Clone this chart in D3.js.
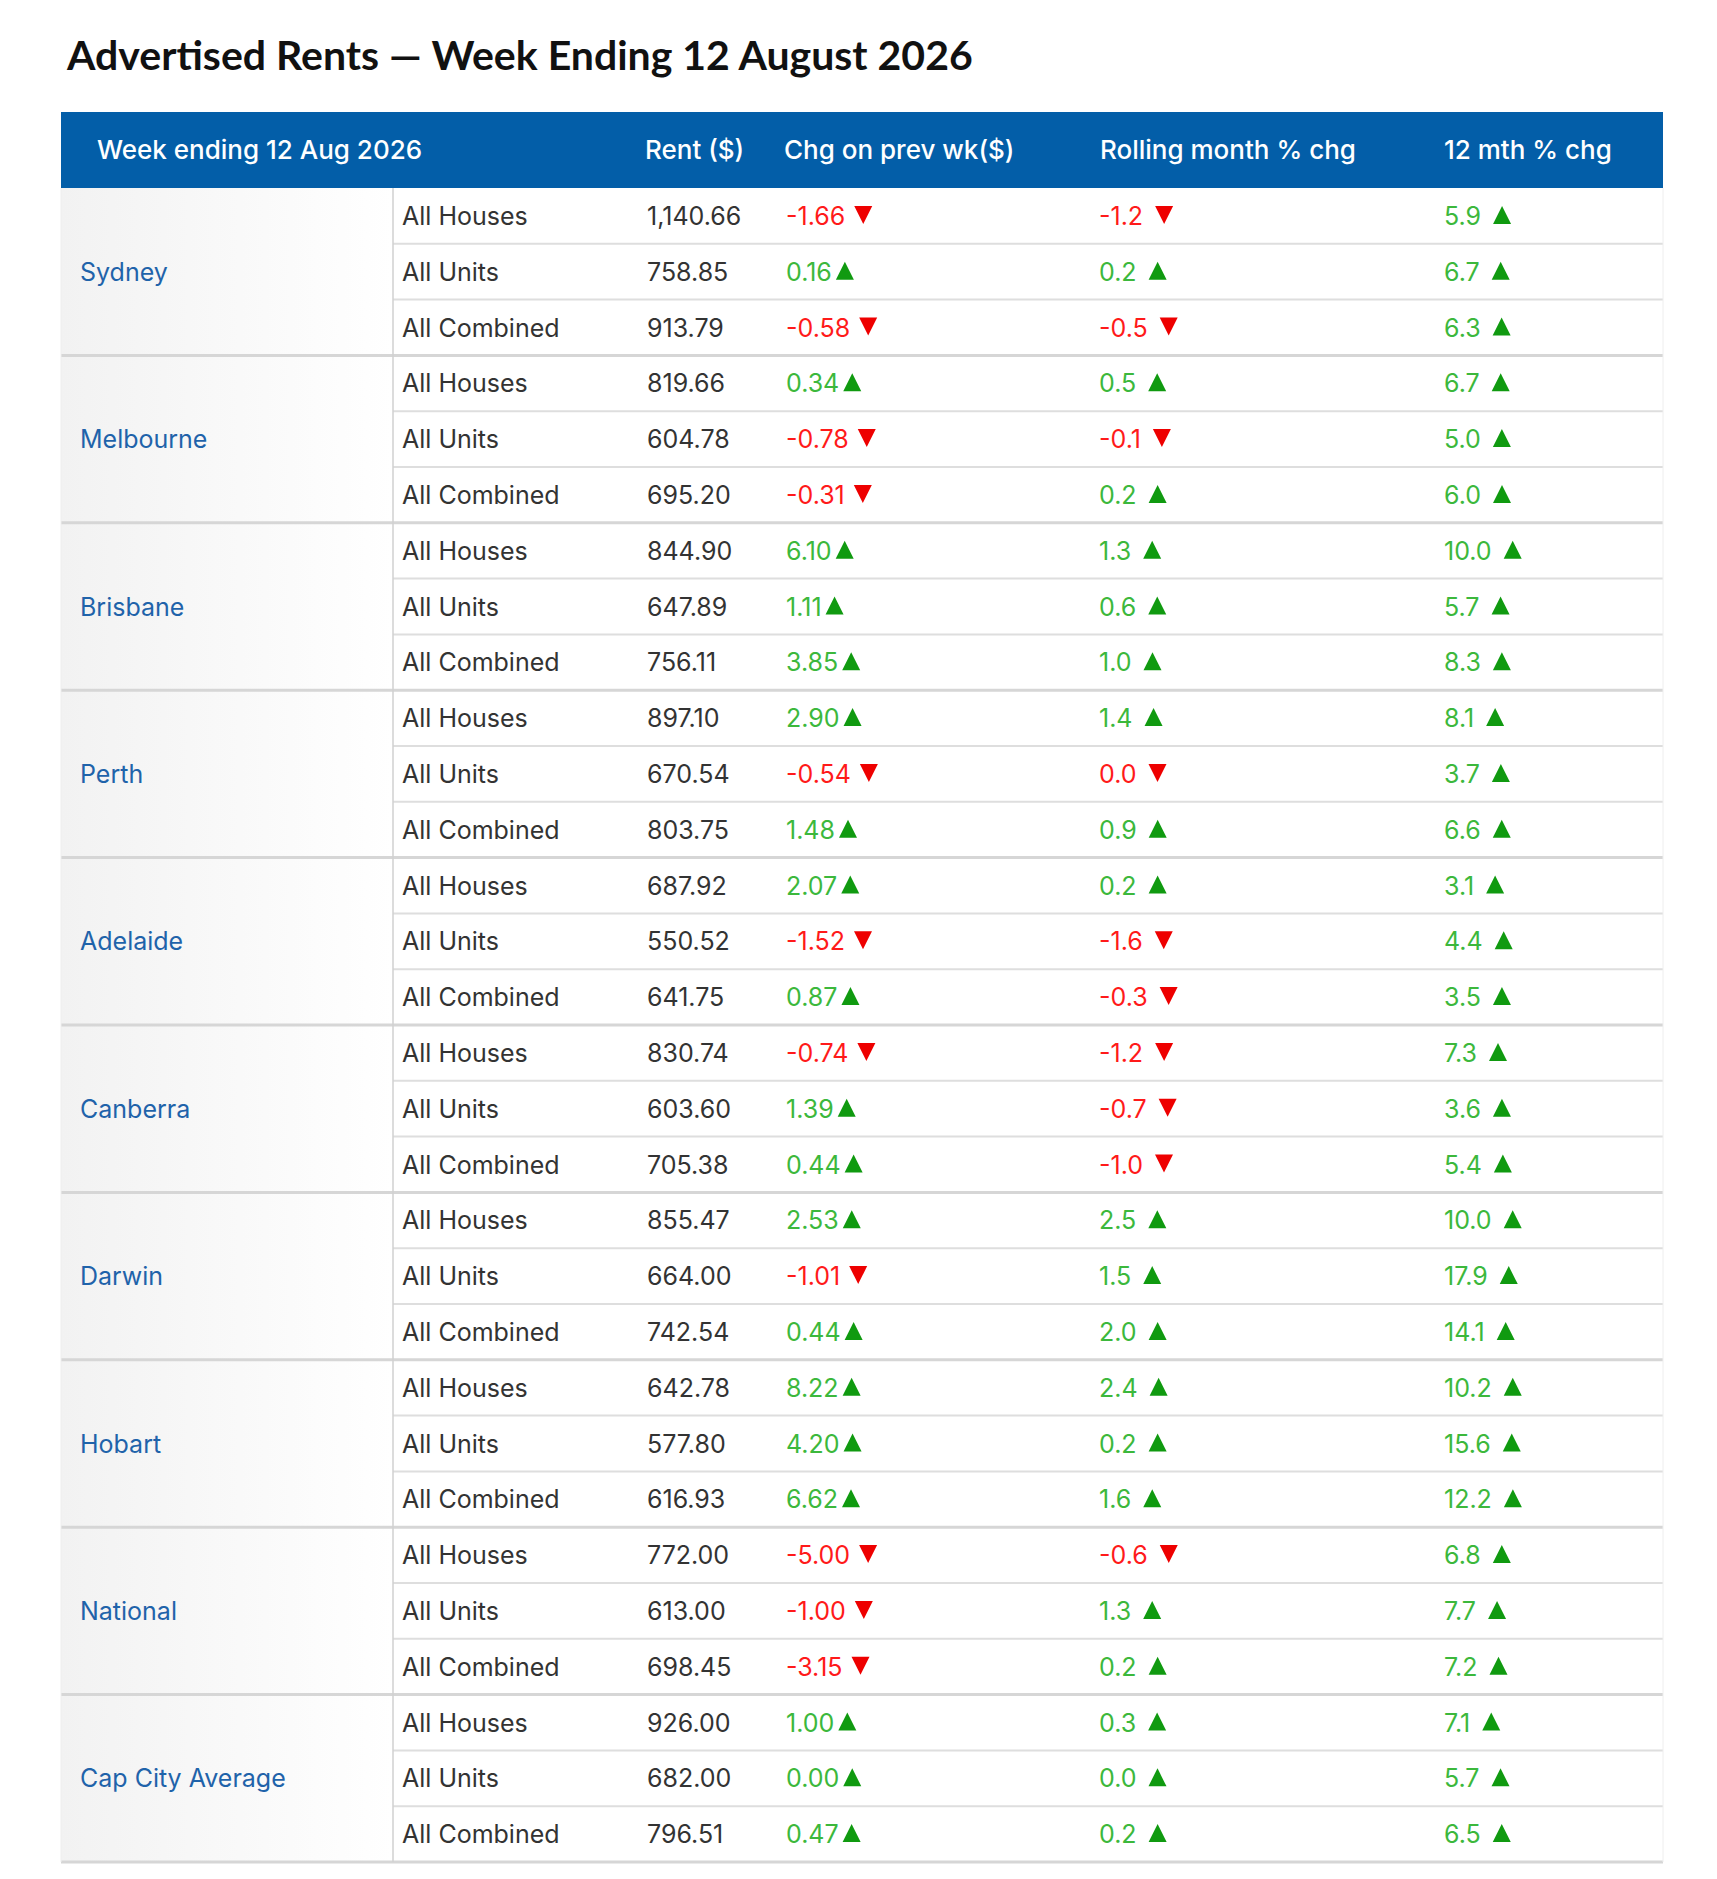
<!DOCTYPE html>
<html><head><meta charset="utf-8">
<script src="https://cdn.jsdelivr.net/npm/d3@7"></script>
<style>body{margin:0;background:#fff}</style>
</head><body>
<svg id="chart"></svg>
<script>
const cities = ["Sydney","Melbourne","Brisbane","Perth","Adelaide","Canberra","Darwin","Hobart","National","Cap City Average"];
const types = ["All Houses","All Units","All Combined"];
const headers = ["Week ending 12 Aug 2026","Rent ($)","Chg on prev wk($)","Rolling month % chg","12 mth % chg"];
const rent = ["1,140.66","758.85","913.79","819.66","604.78","695.20","844.90","647.89","756.11","897.10","670.54","803.75",
  "687.92","550.52","641.75","830.74","603.60","705.38","855.47","664.00","742.54","642.78","577.80","616.93",
  "772.00","613.00","698.45","926.00","682.00","796.51"];
const chgWeek = ["-1.66","0.16","-0.58","0.34","-0.78","-0.31","6.10","1.11","3.85","2.90","-0.54","1.48",
  "2.07","-1.52","0.87","-0.74","1.39","0.44","2.53","-1.01","0.44","8.22","4.20","6.62",
  "-5.00","-1.00","-3.15","1.00","0.00","0.47"];
const chgMonth = ["-1.2","0.2","-0.5","0.5","-0.1","0.2","1.3","0.6","1.0","1.4","0.0","0.9",
  "0.2","-1.6","-0.3","-1.2","-0.7","-1.0","2.5","1.5","2.0","2.4","0.2","1.6",
  "-0.6","1.3","0.2","0.3","0.0","0.2"];
// direction of the arrow in the month column (0.0 for Perth units shows down, Cap City shows up)
const monthDown = [1,0,1,0,1,0,0,0,0,0,1,0, 0,1,1,1,1,1,0,0,0,0,0,0, 1,0,0,0,0,0];
const chg12 = ["5.9","6.7","6.3","6.7","5.0","6.0","10.0","5.7","8.3","8.1","3.7","6.6",
  "3.1","4.4","3.5","7.3","3.6","5.4","10.0","17.9","14.1","10.2","15.6","12.2",
  "6.8","7.7","7.2","7.1","5.7","6.5"];

const W = 1717, H = 1879;
const left = 61, right = 1663, headTop = 112, headH = 76, rowH = 55.8;
const bodyTop = headTop + headH;
const font = "Inter, 'Noto Sans', sans-serif";
const red = "#ff1a1a", green = "#3cb83c", greenTri = "#109a10";

const svg = d3.select("#chart").attr("width", W).attr("height", H).style("font-family", font);
const defs = svg.append("defs");
const g = defs.append("linearGradient").attr("id", "cityGrad").attr("x1", "0%").attr("x2", "100%");
g.append("stop").attr("offset", "0%").attr("stop-color", "#f2f2f2");
g.append("stop").attr("offset", "100%").attr("stop-color", "#ffffff");

// title
svg.append("text").attr("x", 67).attr("y", 70)
  .style("font-family", "Lato, sans-serif").style("font-weight", 700).style("font-size", "41px")
  .attr("fill", "#111").text("Advertised Rents \u2014 Week Ending 12 August 2026");

// header
svg.append("rect").attr("x", left).attr("y", headTop).attr("width", right - left).attr("height", headH).attr("fill", "#035ea8");
const headX = [97, 645, 784, 1100, 1444];
svg.selectAll(".head").data(headers).enter().append("text")
  .attr("x", (d, i) => headX[i]).attr("y", headTop + headH / 2 + 9)
  .attr("fill", "#fff").style("font-size", "26px").style("font-weight", 500).text(d => d);

const y = i => bodyTop + i * rowH;

// city cells
cities.forEach((c, k) => {
  svg.append("rect").attr("x", left).attr("y", y(k * 3)).attr("width", 332).attr("height", rowH * 3).attr("fill", "url(#cityGrad)");
  svg.append("text").attr("x", 80).attr("y", y(k * 3) + rowH * 1.5 + 9)
    .attr("fill", "#1f63aa").style("font-size", "25px").text(c);
});

// row lines
d3.range(1, 31).forEach(i => {
  const group = i % 3 === 0;
  svg.append("line").attr("x1", group ? left : 393).attr("x2", right)
    .attr("y1", y(i)).attr("y2", y(i))
    .attr("stroke", group ? "#d6d6d6" : "#dedede").attr("stroke-width", group ? 3 : 2);
});
svg.append("line").attr("x1", 393).attr("x2", 393).attr("y1", bodyTop).attr("y2", y(30)).attr("stroke", "#d0d0d0").attr("stroke-width", 1.5);
svg.append("line").attr("x1", left).attr("x2", left).attr("y1", bodyTop).attr("y2", y(30)).attr("stroke", "#eee");
svg.append("line").attr("x1", right).attr("x2", right).attr("y1", bodyTop).attr("y2", y(30)).attr("stroke", "#eee");

function tri(x, cy, down, col) {
  const s = 9;
  const p = down ? `M${x},${cy - s} L${x + 2 * s},${cy - s} L${x + s},${cy + s} Z`
                 : `M${x + s},${cy - s} L${x + 2 * s},${cy + s} L${x},${cy + s} Z`;
  svg.append("path").attr("d", p).attr("fill", col);
}

function cell(x, i, txt, col, arrow, down, gap) {
  const cy = y(i) + rowH / 2;
  const t = svg.append("text").attr("x", x).attr("y", cy + 9).attr("fill", col).style("font-size", "25px").text(txt);
  if (arrow) tri(x + t.node().getComputedTextLength() + gap, cy - 1, down, down ? "#ee0000" : greenTri);
}

d3.range(30).forEach(i => {
  cell(402, i, types[i % 3], "#333");
  cell(647, i, rent[i], "#333");
  const dw = chgWeek[i].startsWith("-");
  cell(786, i, chgWeek[i], dw ? red : green, true, dw, dw ? 9 : 4);
  const dm = monthDown[i] === 1;
  cell(1099, i, chgMonth[i], dm ? red : green, true, dm, 12);
  cell(1444, i, chg12[i], green, true, false, 12);
});
</script>
</body></html>
